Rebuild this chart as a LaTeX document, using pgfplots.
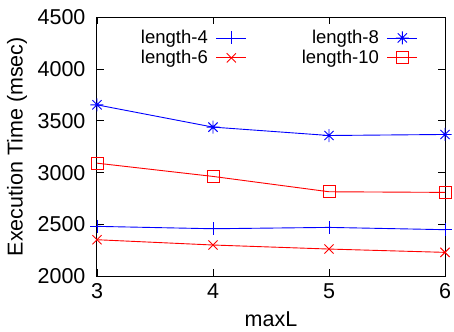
\documentclass[border=0pt]{standalone}
\usepackage{pgfplots}
\pgfplotsset{compat=1.18}
\usepackage{fontspec}
\setmainfont{Liberation Sans}

% eight-armed star: a plus and a cross on top of each other
\pgfdeclareplotmark{gstar}{%
  \pgfpathmoveto{\pgfqpoint{-\pgfplotmarksize}{0pt}}%
  \pgfpathlineto{\pgfqpoint{\pgfplotmarksize}{0pt}}%
  \pgfpathmoveto{\pgfqpoint{0pt}{-\pgfplotmarksize}}%
  \pgfpathlineto{\pgfqpoint{0pt}{\pgfplotmarksize}}%
  \pgfpathmoveto{\pgfqpoint{-0.7071\pgfplotmarksize}{-0.7071\pgfplotmarksize}}%
  \pgfpathlineto{\pgfqpoint{0.7071\pgfplotmarksize}{0.7071\pgfplotmarksize}}%
  \pgfpathmoveto{\pgfqpoint{-0.7071\pgfplotmarksize}{0.7071\pgfplotmarksize}}%
  \pgfpathlineto{\pgfqpoint{0.7071\pgfplotmarksize}{-0.7071\pgfplotmarksize}}%
  \pgfusepathqstroke}

\definecolor{gblue}{RGB}{0,0,255}
\definecolor{gred}{RGB}{255,0,0}

\begin{document}
\begin{tikzpicture}
\begin{axis}[
  name=ax,
  scale only axis,
  width=348pt, height=259pt,
  xmin=3, xmax=6, ymin=2000, ymax=4500,
  xtick={3,4,5,6}, ytick={2000,2500,3000,3500,4000,4500},
  tick align=inside,
  major tick length=7pt,
  axis line style={line width=1pt},
  every tick/.style={black, line width=0.8pt},
  /pgf/number format/assume math mode=true,
  /pgf/number format/1000 sep={},
  ticklabel style={font=\fontsize{21.5}{24}\selectfont},
  yticklabel style={xshift=-8pt},
  xticklabel style={yshift=-3.5pt},
  xlabel={maxL},
  ylabel={Execution Time (msec)},
  every axis x label/.style={at={([yshift=-43pt]axis description cs:0.5,0)},
    anchor=center, font=\fontsize{21.5}{24}\selectfont},
  every axis y label/.style={at={([xshift=-80pt]axis description cs:0,0.5)},
    anchor=center, rotate=90, font=\fontsize{21.5}{24}\selectfont},
  legend columns=2,
  legend plot pos=right,
  legend cell align=right,
  legend style={draw=none, fill=none, at={(1,1)}, anchor=north east,
    xshift=-24pt, yshift=-9pt,
    font=\fontsize{18.5}{21}\selectfont, row sep=1pt,
    /tikz/every odd column/.append style={column sep=6pt},
    /tikz/every even column/.append style={column sep=53pt}},
  legend image code/.code={%
    \draw[mark repeat=2, mark phase=2] plot coordinates {(0pt,0pt) (15pt,0pt) (30pt,0pt)};},
  every axis plot/.append style={line width=0.9pt},
  mark size=6.5pt,
  every mark/.append style={solid},
]
\addplot[color=gblue, mark=+] coordinates {(3,2482) (4,2459) (5,2472) (6,2450)};
\addlegendentry{length-4}
\addplot[color=gblue, mark=gstar] coordinates {(3,3655) (4,3440) (5,3359) (6,3369)};
\addlegendentry{length-8}
\addplot[color=gred, mark=x] coordinates {(3,2353) (4,2302) (5,2263) (6,2231)};
\addlegendentry{length-6}
\addplot[color=gred, mark=square, mark size=6pt] coordinates {(3,3092) (4,2964) (5,2816) (6,2810)};
\addlegendentry{length-10}
\end{axis}
% page frame around the plot area and its labels
\pgfresetboundingbox
\path ([xshift=-97pt,yshift=-55.3pt]ax.south west) rectangle ([xshift=9pt,yshift=17.3pt]ax.north east);
\end{tikzpicture}
\end{document}
